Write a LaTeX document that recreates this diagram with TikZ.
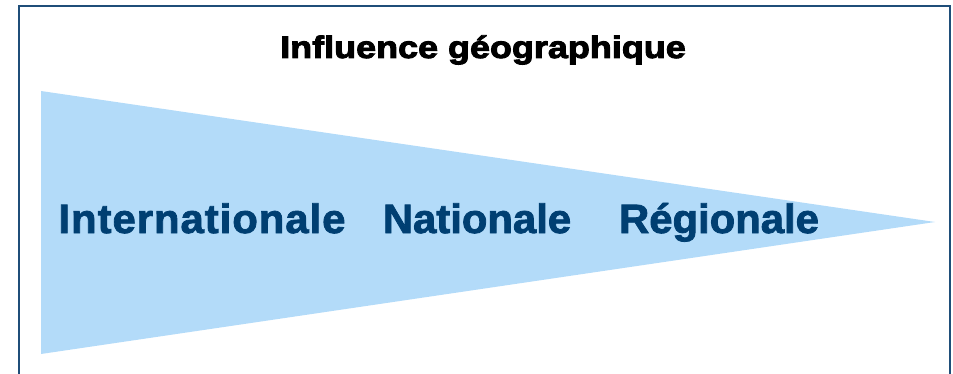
\documentclass[tikz,border=0pt]{standalone}
\usepackage{fontspec}
\setmainfont{Liberation Sans}
\newfontfamily\titlefont[FakeStretch=1.16,FakeBold=3]{Liberation Sans Bold}
\newfontfamily\mainfont[FakeStretch=1.02,FakeBold=2]{Liberation Sans Bold}
\newfontfamily\widefont[FakeStretch=1.02,FakeBold=2,LetterSpace=2.4]{Liberation Sans Bold}
\definecolor{framecol}{HTML}{1F4E79}
\definecolor{fillcol}{HTML}{B3DBF9}
\definecolor{textcol}{HTML}{003F72}
\begin{document}
\begin{tikzpicture}[x=1pt,y=1pt,
  levellabel/.style={anchor=base,inner sep=0pt,text=textcol,font=\mainfont\fontsize{41}{41}\selectfont},
  widelabel/.style={levellabel,font=\widefont\fontsize{41}{41}\selectfont},
  titlelabel/.style={anchor=base,inner sep=0pt,text=black,font=\titlefont\fontsize{31}{31}\selectfont}]
\useasboundingbox (0,0) rectangle (953,373);
\clip (0,0) rectangle (953,373);
\draw[framecol,line width=2pt] (19,-10) -- (19,367) -- (949.5,367) -- (949.5,-10);
\fill[fillcol] (41,282) coordinate (tl) -- (41,19) coordinate (bl) -- (935,151) coordinate (tip) -- cycle;
\node[titlelabel] (title) at (483,315) {Influence géographique};
\node[widelabel] (intl) at (202,140) {Internationale};
\node[levellabel] (natl) at (477,140) {Nationale};
\node[levellabel] (regl) at (719,140) {Régionale};
\end{tikzpicture}
\end{document}
